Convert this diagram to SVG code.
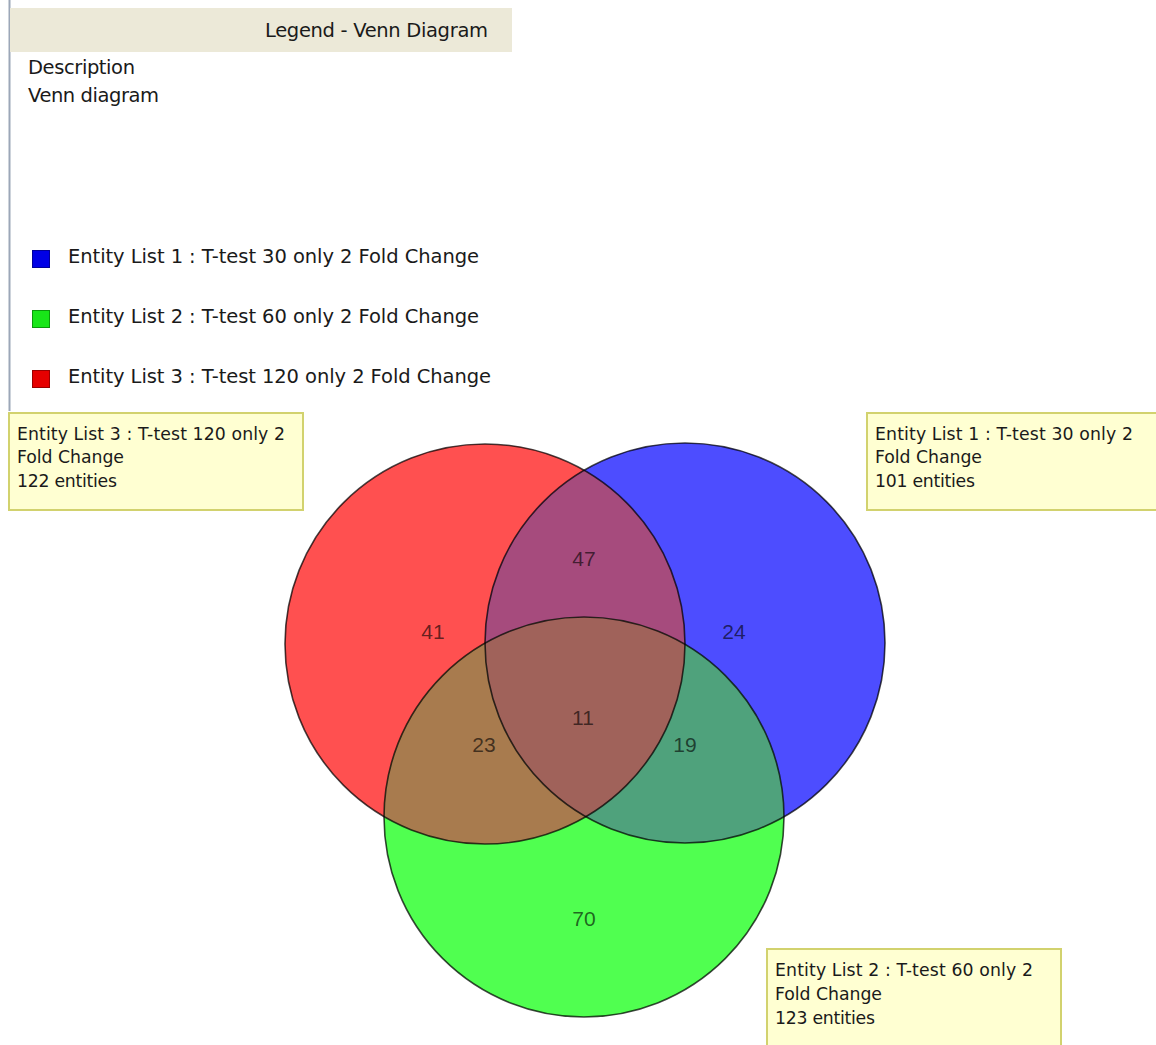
<svg xmlns="http://www.w3.org/2000/svg" width="1156" height="1045" viewBox="0 0 1156 1045">
<style>
.lg{font-family:"DejaVu Sans","Liberation Sans",sans-serif;font-size:19.5px;fill:#1a1a1a}
.tt{font-family:"DejaVu Sans","Liberation Sans",sans-serif;font-size:17.3px;fill:#1a1a1a}
.num{font-family:"Liberation Sans",Arial,sans-serif;font-size:21px;fill:#000;fill-opacity:0.62;text-anchor:middle}
.box{fill:#FFFFD2;stroke:#D2D26E;stroke-width:2}
.ring{fill:none;stroke:#000;stroke-opacity:0.72;stroke-width:1.6}
</style>
<defs>
<clipPath id="cR"><circle cx="485" cy="644" r="200"/></clipPath>
<clipPath id="cB"><circle cx="685" cy="643" r="200"/></clipPath>
</defs>
<rect width="1156" height="1045" fill="#fff"/>
<g id="legend">
<line x1="9.5" y1="0" x2="9.5" y2="411" stroke="#9CA7B8" stroke-width="2"/>
<rect x="10" y="8" width="502" height="44" fill="#ECE9D8"/>
<text class="lg" x="488" y="37" text-anchor="end" textLength="223">Legend - Venn Diagram</text>
<text class="lg" x="28" y="74" textLength="107">Description</text>
<text class="lg" x="28" y="102" textLength="131">Venn diagram</text>
<rect x="32.5" y="250.5" width="17" height="17" fill="#0000E6" stroke="#00009A"/>
<text class="lg" x="68" y="263" textLength="411">Entity List 1 : T-test 30 only 2 Fold Change</text>
<rect x="32.5" y="310.5" width="17" height="17" fill="#18E618" stroke="#0A9A0A"/>
<text class="lg" x="68" y="323" textLength="411">Entity List 2 : T-test 60 only 2 Fold Change</text>
<rect x="32.5" y="370.5" width="17" height="17" fill="#E60000" stroke="#9A0000"/>
<text class="lg" x="68" y="383" textLength="423">Entity List 3 : T-test 120 only 2 Fold Change</text>
</g>
<g id="venn">
<g id="set-red"><circle cx="485" cy="644" r="200" fill="#FF5050"/></g>
<g id="set-blue"><circle cx="685" cy="643" r="200" fill="#4D4DFF"/></g>
<g id="set-green"><circle cx="584" cy="817" r="200" fill="#50FF50"/></g>
<g id="red-blue" clip-path="url(#cR)"><circle cx="685" cy="643" r="200" fill="#A64B7D"/></g>
<g id="red-green" clip-path="url(#cR)"><circle cx="584" cy="817" r="200" fill="#A87B4E"/></g>
<g id="blue-green" clip-path="url(#cB)"><circle cx="584" cy="817" r="200" fill="#4FA27C"/></g>
<g id="all-three" clip-path="url(#cB)"><g clip-path="url(#cR)"><circle cx="584" cy="817" r="200" fill="#A0625A"/></g></g>
<circle class="ring" cx="485" cy="644" r="200"/>
<circle class="ring" cx="685" cy="643" r="200"/>
<circle class="ring" cx="584" cy="817" r="200"/>
<text class="num" x="584" y="566">47</text>
<text class="num" x="433" y="639">41</text>
<text class="num" x="734" y="639">24</text>
<text class="num" x="583" y="725">11</text>
<text class="num" x="484" y="752">23</text>
<text class="num" x="685" y="752">19</text>
<text class="num" x="584" y="926">70</text>
</g>
<g id="tip-list3">
<rect class="box" x="9" y="413" width="294" height="97"/>
<text class="tt" x="17" y="440" textLength="268">Entity List 3 : T-test 120 only 2</text>
<text class="tt" x="17" y="463" textLength="107">Fold Change</text>
<text class="tt" x="17" y="487" textLength="100">122 entities</text>
</g>
<g id="tip-list1">
<rect class="box" x="867" y="413" width="300" height="97"/>
<text class="tt" x="875" y="440" textLength="258">Entity List 1 : T-test 30 only 2</text>
<text class="tt" x="875" y="463" textLength="107">Fold Change</text>
<text class="tt" x="875" y="487" textLength="100">101 entities</text>
</g>
<g id="tip-list2">
<rect class="box" x="767" y="949" width="294" height="110"/>
<text class="tt" x="775" y="976" textLength="258">Entity List 2 : T-test 60 only 2</text>
<text class="tt" x="775" y="1000" textLength="107">Fold Change</text>
<text class="tt" x="775" y="1024" textLength="100">123 entities</text>
</g>
<g id="connectors"/>
</svg>
